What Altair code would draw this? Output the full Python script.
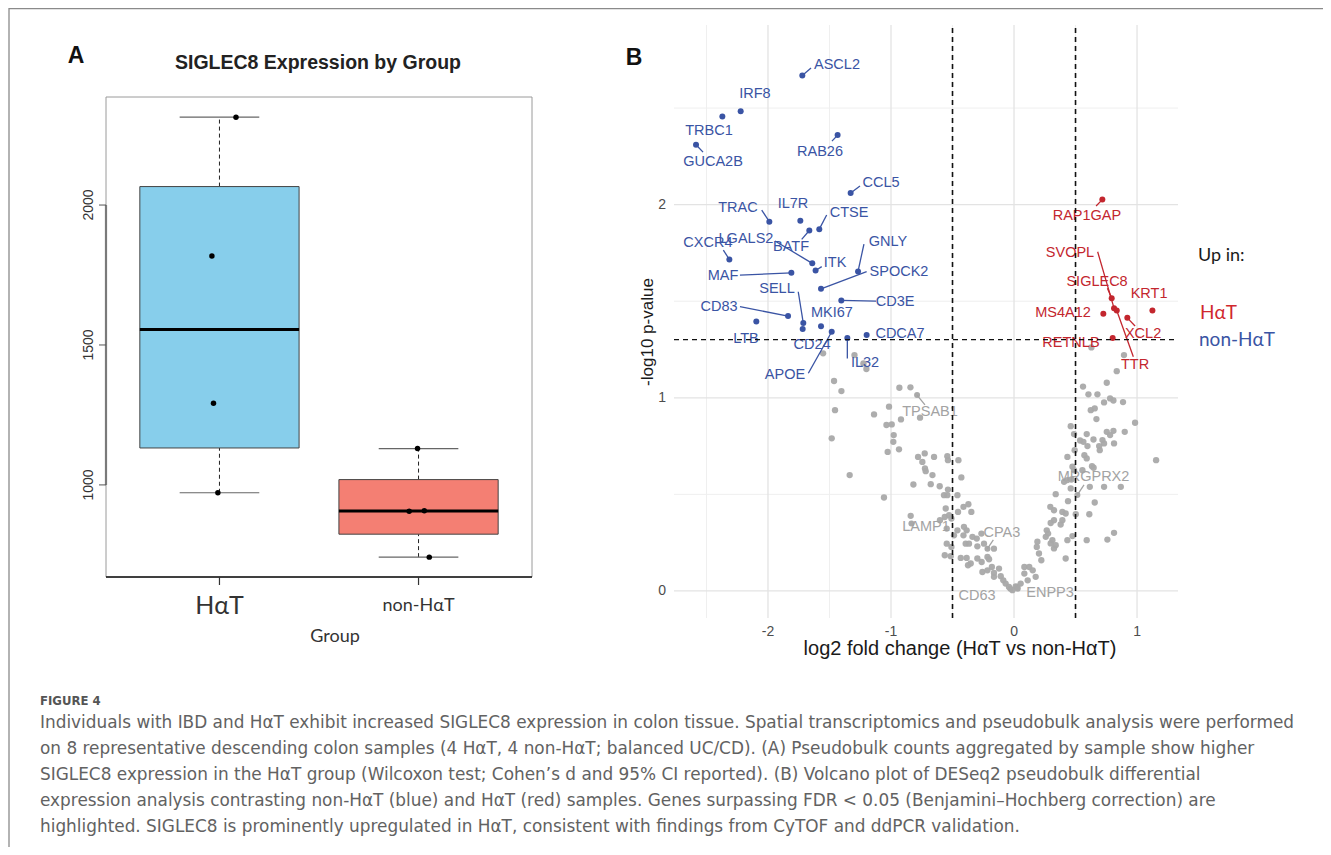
import math
import altair as alt
import pandas as pd

# ---------------- Panel A data (SIGLEC8 pseudobulk counts) ----------------
group_names = ["HαT", "non-HαT"]
group_pos = [1, 2]
group_fill = ["#87CEEB", "#F47F73"]
sample_group = ["HαT", "HαT", "HαT", "HαT", "non-HαT", "non-HαT", "non-HαT", "non-HαT"]
sample_expr = [2314, 1818, 1292, 972, 1130, 906, 908, 742]
sample_jitter = [0.083, -0.038, -0.030, -0.008, -0.005, -0.047, 0.029, 0.054]
a_yticks = [1000, 1500, 2000]

# ---------------- Panel B data (volcano) ----------------
down_genes = ["ASCL2", "IRF8", "TRBC1", "GUCA2B", "RAB26", "CCL5", "TRAC", "IL7R", "CTSE", "BATF",
              "LGALS2", "CXCR4", "ITK", "GNLY", "MAF", "SPOCK2", "SELL", "CD3E", "CD83", "MKI67",
              "LTB", "CD24", "APOE", "IL32", "CDCA7"]
down_lfc = [-1.721, -2.222, -2.371, -2.585, -1.434, -1.328, -1.989, -1.737, -1.583, -1.664,
            -1.640, -2.314, -1.613, -1.268, -1.810, -1.569, -1.713, -1.404, -1.837, -1.569,
            -2.095, -1.718, -1.482, -1.355, -1.198]
down_logp = [2.669, 2.484, 2.456, 2.310, 2.360, 2.060, 1.912, 1.916, 1.873, 1.866,
             1.696, 1.716, 1.659, 1.654, 1.647, 1.564, 1.387, 1.504, 1.423, 1.371,
             1.395, 1.356, 1.342, 1.309, 1.325]
down_lab_x = [-1.439, -2.106, -2.480, -2.447, -1.577, -1.081, -2.244, -1.797, -1.341, -1.813,
              -2.179, -2.488, -1.455, -1.024, -2.366, -0.935, -1.927, -0.967, -2.398, -1.480,
              -2.179, -1.642, -1.862, -1.211, -0.927]
down_lab_y = [2.723, 2.572, 2.381, 2.220, 2.272, 2.110, 1.982, 2.003, 1.957, 1.781,
              1.822, 1.801, 1.698, 1.808, 1.630, 1.651, 1.563, 1.496, 1.470, 1.439,
              1.304, 1.273, 1.118, 1.180, 1.330]
down_seg_x = [-1.650, None, None, -2.528, -1.480, -1.252, -2.051, None, -1.523, -1.726,
              -1.943, -2.363, -1.563, -1.220, -2.228, -1.198, -1.754, -1.122, -2.228, None,
              None, None, -1.672, -1.355, None]
down_seg_y = [2.707, None, None, 2.272, 2.329, 2.096, 1.972, None, 1.946, 1.820,
              1.812, 1.765, 1.679, 1.796, 1.635, 1.653, 1.549, 1.501, 1.472, None,
              None, None, 1.127, 1.204, None]

up_genes = ["RAP1GAP", "SVOPL", "SIGLEC8", "KRT1", "MS4A12", "XCL2", "RETNLB", "TTR"]
up_lfc = [0.718, 0.813, 0.794, 1.125, 0.726, 0.921, 0.802, 0.835]
up_logp = [2.026, 1.464, 1.516, 1.452, 1.435, 1.414, 1.309, 1.452]
up_lab_x = [0.593, 0.455, 0.675, 1.098, 0.398, 1.049, 0.463, 0.984]
up_lab_y = [1.941, 1.749, 1.599, 1.537, 1.439, 1.330, 1.284, 1.170]
up_seg_x = [0.667, 0.680, 0.759, None, None, 0.984, None, 0.970]
up_seg_y = [1.993, 1.756, 1.567, None, None, 1.372, None, 1.213]

ns_genes = ["TPSAB1", "LAMP1", "CPA3", "CD63", "ENPP3", "MRGPRX2"]
ns_lfc = [-0.788, -0.834, -0.216, -0.030, 0.030, 0.515]
ns_logp = [1.014, 0.349, 0.219, 0.012, 0.012, 0.497]
ns_lab_x = [-0.683, -0.715, -0.098, -0.301, 0.293, 0.646]
ns_lab_y = [0.927, 0.331, 0.300, -0.026, -0.010, 0.590]
ns_seg_x = [-0.724, None, -0.168, None, None, 0.569]
ns_seg_y = [0.963, None, 0.264, None, None, 0.549]

gray_lfc = [
    -1.552, -1.297, -1.224, -1.200, -1.463, -1.403, -1.455, -1.482, -1.336,
    -0.932, -0.842, -1.016, -1.138, -0.919, -0.764, -1.037, -0.994, -0.978, -0.981,
    -1.027, -0.935, -1.057, -0.780, -0.726, -0.745, -0.650, -0.724, -0.718, -0.663,
    -0.818, -0.677, -0.604, -0.542, -0.537, -0.452, -0.428, -0.537, -0.569, -0.542,
    -0.460, -0.840, -0.555, -0.602, -0.563, -0.528, -0.509, -0.455, -0.411, -0.371,
    -0.347, -0.547, -0.460, -0.407, -0.385, -0.488, -0.411, -0.338, -0.303, -0.265,
    -0.547, -0.509, -0.393, -0.366, -0.298, -0.244, -0.163, -0.563, -0.515, -0.433,
    -0.385, -0.352, -0.374, -0.298, -0.263, -0.216, -0.203, -0.257, -0.216, -0.180,
    -0.163, -0.122, -0.163, -0.108, -0.087, -0.068, -0.041, -0.013, 0.014,
    0.629, 0.894, 0.835, 0.754, 0.561, 0.605, 0.678, 0.781, 0.808, 0.732, 0.886,
    0.984, 0.624, 0.656, 0.670, 0.461, 0.488, 0.591, 0.754, 0.808, 0.781, 0.900,
    0.646, 0.719, 0.732, 0.692, 0.697, 0.537, 0.564, 0.813, 0.493, 0.597,
    0.434, 0.572, 0.591, 0.634, 0.647, 1.155, 0.475, 0.488, 0.556,
    0.407, 0.434, 0.467, 0.461, 0.616, 0.732, 0.868, 0.339, 0.656, 0.439,
    0.295, 0.325, 0.393, 0.420, 0.393, 0.325, 0.298, 0.379, 0.502, 0.612,
    0.266, 0.277, 0.258, 0.312, 0.298, 0.325, 0.339, 0.434, 0.475, 0.591, 0.759, 0.813,
    0.190, 0.185, 0.203, 0.222, 0.420, 0.084, 0.124, 0.152, 0.084, 0.111, 0.176,
    0.027, 0.054,
]
gray_logp = [
    1.230, 1.221, 1.178, 1.149, 1.087, 1.035, 0.936, 0.790, 0.600,
    1.052, 1.054, 0.954, 0.914, 0.888, 0.897, 0.859, 0.862, 0.807, 0.772,
    0.720, 0.733, 0.484, 0.694, 0.712, 0.668, 0.694, 0.634, 0.620, 0.600,
    0.551, 0.553, 0.542, 0.698, 0.677, 0.677, 0.588, 0.525, 0.496, 0.496,
    0.496, 0.389, 0.427, 0.366, 0.383, 0.392, 0.375, 0.409, 0.435, 0.449,
    0.409, 0.323, 0.314, 0.332, 0.314, 0.288, 0.288, 0.280, 0.271, 0.297,
    0.245, 0.228, 0.245, 0.245, 0.231, 0.245, 0.219, 0.185, 0.180, 0.171,
    0.171, 0.142, 0.133, 0.168, 0.150, 0.176, 0.164, 0.098, 0.107, 0.124,
    0.093, 0.116, 0.073, 0.076, 0.055, 0.038, 0.021, 0.004, 0.024,
    1.261, 1.221, 1.138, 1.078, 1.058, 1.018, 1.018, 0.997, 0.986, 0.976, 0.978,
    0.871, 0.936, 0.945, 0.890, 0.853, 0.812, 0.812, 0.824, 0.829, 0.807, 0.824,
    0.784, 0.781, 0.764, 0.750, 0.729, 0.779, 0.772, 0.764, 0.729, 0.750,
    0.694, 0.703, 0.686, 0.646, 0.638, 0.677, 0.643, 0.625, 0.625,
    0.565, 0.574, 0.577, 0.531, 0.539, 0.539, 0.539, 0.501, 0.458, 0.465,
    0.435, 0.418, 0.409, 0.401, 0.366, 0.366, 0.352, 0.344, 0.397, 0.397,
    0.314, 0.297, 0.280, 0.263, 0.246, 0.220, 0.237, 0.263, 0.284, 0.263, 0.266, 0.301,
    0.255, 0.228, 0.194, 0.159, 0.168, 0.124, 0.124, 0.107, 0.090, 0.055, 0.073,
    0.021, 0.038,
]

b_xticks = [-2, -1, 0, 1]
b_xminor = [-2.5, -1.5, -0.5, 0.5]
b_yticks = [0, 1, 2]
b_yminor = [0.5, 1.5, 2.5]
fc_cut = 0.5
p_cut = -math.log10(0.05)

caption_head = "FIGURE 4"
caption_lines = [
    "Individuals with IBD and HαT exhibit increased SIGLEC8 expression in colon tissue. Spatial transcriptomics and pseudobulk analysis were performed",
    "on 8 representative descending colon samples (4 HαT, 4 non-HαT; balanced UC/CD). (A) Pseudobulk counts aggregated by sample show higher",
    "SIGLEC8 expression in the HαT group (Wilcoxon test; Cohen’s d and 95% CI reported). (B) Volcano plot of DESeq2 pseudobulk differential",
    "expression analysis contrasting non-HαT (blue) and HαT (red) samples. Genes surpassing FDR < 0.05 (Benjamini–Hochberg correction) are",
    "highlighted. SIGLEC8 is prominently upregulated in HαT, consistent with findings from CyTOF and ddPCR validation.",
]

# ---------------- layout (page pixels) ----------------
M = 8  # page margin
W, H = 1331 - 2 * M, 855 - 2 * M
BLUE, RED, GREY = "#3A54A4", "#C3262E", "#A9A9A9"
SANS = "Liberation Sans"
ROUND = "Lato"

A_L, A_R, A_T, A_B = 106, 532, 97, 577
B_L, B_R, B_T, B_B = 674, 1178, 25, 618

AX = alt.Scale(domain=[0.43, 2.57], range=[A_L - M, A_R - M], nice=False, zero=False)
AY = alt.Scale(domain=[671, 2386], range=[A_B - M, A_T - M], nice=False, zero=False)
BX = alt.Scale(domain=[-2.764, 1.333], range=[B_L - M, B_R - M], nice=False, zero=False)
BY = alt.Scale(domain=[-0.14, 2.93], range=[B_B - M, B_T - M], nice=False, zero=False)


def qx(field, scale):
    return alt.X(field, type="quantitative", scale=scale, axis=None)


def qy(field, scale):
    return alt.Y(field, type="quantitative", scale=scale, axis=None)


def page_text(text, px, py, size, color, weight="normal", align="left",
              font=SANS, angle=0, baseline="middle"):
    return alt.Chart(pd.DataFrame({"t": [text]})).mark_text(
        align=align, baseline=baseline, fontSize=size, color=color,
        fontWeight=weight, font=font, angle=angle
    ).encode(x=alt.value(px - M), y=alt.value(py - M), text="t:N")


def fivenum(vals):
    s = sorted(vals)
    n = len(s)
    n4 = ((n + 3) // 2) / 2
    out = []
    for d in [1, n4, (n + 1) / 2, n + 1 - n4, n]:
        out.append(0.5 * (s[int(math.floor(d)) - 1] + s[int(math.ceil(d)) - 1]))
    return out


layers = []

# ---------- outer figure border ----------
layers.append(alt.Chart(pd.DataFrame({"a": [0]})).mark_rule(color="#8a8a8a", strokeWidth=1.3).encode(
    x=alt.value(1), x2=alt.value(W + M), y=alt.value(0.5)))
layers.append(alt.Chart(pd.DataFrame({"a": [0]})).mark_rule(color="#8a8a8a", strokeWidth=1.3).encode(
    x=alt.value(1), y=alt.value(0), y2=alt.value(H + M)))

# ---------------- Panel A ----------------
samples = pd.DataFrame({"grp": sample_group, "expr": sample_expr, "jit": sample_jitter})
samples["pos"] = [group_pos[group_names.index(g)] for g in samples["grp"]] + samples["jit"]

rows = []
for g, p, f in zip(group_names, group_pos, group_fill):
    mn, q1, med, q3, mx = fivenum(samples.loc[samples.grp == g, "expr"].tolist())
    rows.append(dict(grp=g, pos=p, lo=p - 0.4, hi=p + 0.4, clo=p - 0.2, chi=p + 0.2,
                     mn=mn, q1=q1, med=med, q3=q3, mx=mx, fill=f))
boxes = pd.DataFrame(rows)

frame = pd.DataFrame({"x0": [AX.domain[0]], "x1": [AX.domain[1]], "y0": [AY.domain[0]], "y1": [AY.domain[1]]})
layers.append(alt.Chart(frame).mark_rect(fillOpacity=0, stroke="#9a9a9a", strokeWidth=1).encode(
    x=qx("x0", AX), x2="x1", y=qy("y0", AY), y2="y1"))
layers.append(alt.Chart(frame).mark_rule(color="#111111", strokeWidth=1.6).encode(
    x=qx("x0", AX), x2="x1", y=qy("y0", AY)))

# whisker stems (dashed) and caps
layers.append(alt.Chart(boxes).mark_rule(color="#222222", strokeWidth=1, strokeDash=[4, 3]).encode(
    x=qx("pos", AX), y=qy("q3", AY), y2="mx"))
layers.append(alt.Chart(boxes).mark_rule(color="#222222", strokeWidth=1, strokeDash=[4, 3]).encode(
    x=qx("pos", AX), y=qy("mn", AY), y2="q1"))
layers.append(alt.Chart(boxes).mark_rule(color="#666666", strokeWidth=1.2).encode(
    x=qx("clo", AX), x2="chi", y=qy("mx", AY)))
layers.append(alt.Chart(boxes).mark_rule(color="#666666", strokeWidth=1.2).encode(
    x=qx("clo", AX), x2="chi", y=qy("mn", AY)))
# boxes
layers.append(alt.Chart(boxes).mark_rect(stroke="#444444", strokeWidth=1).encode(
    x=qx("lo", AX), x2="hi", y=qy("q1", AY), y2="q3",
    color=alt.Color("fill:N", scale=None, legend=None)))
layers.append(alt.Chart(boxes).mark_rule(color="#000000", strokeWidth=3).encode(
    x=qx("lo", AX), x2="hi", y=qy("med", AY)))
# sample points
layers.append(alt.Chart(samples).mark_circle(color="#000000", opacity=1, size=30).encode(
    x=qx("pos", AX), y=qy("expr", AY)))

# y axis
ayt = pd.DataFrame({"v": a_yticks, "lab": [str(v) for v in a_yticks],
                    "lo": [min(a_yticks)] * 3, "hi": [max(a_yticks)] * 3})
layers.append(alt.Chart(ayt.head(1)).mark_rule(color="#7a7a7a", strokeWidth=2.2).encode(
    x=alt.value(A_L - M), y=qy("lo", AY), y2="hi"))
layers.append(alt.Chart(ayt).mark_rule(color="#555555", strokeWidth=1).encode(
    x=alt.value(A_L - M - 7), x2=alt.value(A_L - M), y=qy("v", AY)))
layers.append(alt.Chart(ayt).mark_text(angle=270, fontSize=14, color="#333333", font=SANS,
                                       align="center", baseline="middle").encode(
    x=alt.value(89 - M), y=qy("v", AY), text="lab:N"))
# x axis
axt = pd.DataFrame({"pos": group_pos, "lab": group_names, "fs": [25, 18]})
layers.append(alt.Chart(axt).mark_rule(color="#333333", strokeWidth=1.2).encode(
    x=qx("pos", AX), y=alt.value(A_B - M), y2=alt.value(A_B - M + 8)))
layers.append(alt.Chart(axt).mark_text(color="#333333", font=ROUND, baseline="middle").encode(
    x=qx("pos", AX), y=alt.value(606 - M), text="lab:N",
    size=alt.Size("fs:Q", scale=None, legend=None)))
layers.append(page_text("Group", 335, 637, 18, "#333333", font=ROUND, align="center"))
layers.append(page_text("SIGLEC8 Expression by Group", 318, 63, 19.5, "#222222", weight="bold", align="center"))
layers.append(page_text("A", 76, 56, 23, "#111111", weight="bold", align="center"))

# ---------------- Panel B ----------------
gx = pd.DataFrame({"v": b_xticks, "lo": BY.domain[0], "hi": BY.domain[1]})
gxm = pd.DataFrame({"v": b_xminor, "lo": BY.domain[0], "hi": BY.domain[1]})
gy = pd.DataFrame({"v": b_yticks, "lo": BX.domain[0], "hi": BX.domain[1]})
gym = pd.DataFrame({"v": b_yminor, "lo": BX.domain[0], "hi": BX.domain[1]})
layers.append(alt.Chart(gxm).mark_rule(color="#EFEFEF", strokeWidth=1).encode(
    x=qx("v", BX), y=qy("lo", BY), y2="hi"))
layers.append(alt.Chart(gym).mark_rule(color="#EFEFEF", strokeWidth=1).encode(
    y=qy("v", BY), x=qx("lo", BX), x2="hi"))
layers.append(alt.Chart(gx).mark_rule(color="#E3E3E3", strokeWidth=1.3).encode(
    x=qx("v", BX), y=qy("lo", BY), y2="hi"))
layers.append(alt.Chart(gy).mark_rule(color="#E3E3E3", strokeWidth=1.3).encode(
    y=qy("v", BY), x=qx("lo", BX), x2="hi"))

gray_df = pd.DataFrame({"lfc": gray_lfc, "lp": gray_logp})
layers.append(alt.Chart(gray_df).mark_circle(color=GREY, opacity=0.95, size=40).encode(
    x=qx("lfc", BX), y=qy("lp", BY)))

for genes, lfc, lp, lx, ly, sx, sy, col, pcol in [
    (ns_genes, ns_lfc, ns_logp, ns_lab_x, ns_lab_y, ns_seg_x, ns_seg_y, "#A3A3A3", GREY),
    (down_genes, down_lfc, down_logp, down_lab_x, down_lab_y, down_seg_x, down_seg_y, BLUE, BLUE),
    (up_genes, up_lfc, up_logp, up_lab_x, up_lab_y, up_seg_x, up_seg_y, RED, RED),
]:
    df = pd.DataFrame({"gene": genes, "lfc": lfc, "lp": lp, "lx": lx, "ly": ly, "sx": sx, "sy": sy})
    seg = df.dropna(subset=["sx"])
    layers.append(alt.Chart(df).mark_circle(color=pcol, opacity=1, size=36).encode(
        x=qx("lfc", BX), y=qy("lp", BY)))
    layers.append(alt.Chart(seg).mark_rule(color=col, strokeWidth=1.3).encode(
        x=qx("lfc", BX), y=qy("lp", BY), x2="sx", y2="sy"))
    layers.append(alt.Chart(df).mark_text(color=col, fontSize=14.5, font=SANS,
                                          align="center", baseline="middle").encode(
        x=qx("lx", BX), y=qy("ly", BY), text="gene:N"))

# threshold lines
vl = pd.DataFrame({"v": [-fc_cut, fc_cut], "lo": BY.domain[0], "hi": BY.domain[1]})
hl = pd.DataFrame({"v": [p_cut], "lo": BX.domain[0], "hi": BX.domain[1]})
layers.append(alt.Chart(vl).mark_rule(color="#111111", strokeWidth=1.6, strokeDash=[5, 4]).encode(
    x=qx("v", BX), y=qy("lo", BY), y2="hi"))
layers.append(alt.Chart(hl).mark_rule(color="#111111", strokeWidth=1.3, strokeDash=[5, 4]).encode(
    y=qy("v", BY), x=qx("lo", BX), x2="hi"))

# axes labels
bxt = pd.DataFrame({"v": b_xticks, "lab": [str(v) for v in b_xticks]})
byt = pd.DataFrame({"v": b_yticks, "lab": [str(v) for v in b_yticks]})
layers.append(alt.Chart(bxt).mark_text(fontSize=14, color="#4D4D4D", font=SANS, baseline="middle").encode(
    x=qx("v", BX), y=alt.value(632 - M), text="lab:N"))
layers.append(alt.Chart(byt).mark_text(fontSize=14, color="#4D4D4D", font=SANS, align="right",
                                       baseline="middle").encode(
    y=qy("v", BY), x=alt.value(666 - M), text="lab:N"))
layers.append(page_text("log2  fold  change  (HαT  vs  non-HαT)", 960, 649, 20, "#1a1a1a", align="center"))
layers.append(page_text("-log10  p-value", 648, 332, 17, "#1a1a1a", align="center", angle=270))
layers.append(page_text("B", 634, 58, 23, "#111111", weight="bold", align="center"))

# legend-like text
layers.append(page_text("Up  in:", 1198, 256, 18, "#1a1a1a", font=ROUND))
layers.append(page_text("HαT", 1200, 313, 19, "#D0282E", font=ROUND))
layers.append(page_text("non-HαT", 1199, 340, 19, BLUE, font=ROUND))

# ---------------- caption ----------------
layers.append(page_text(caption_head, 40, 701, 13, "#555555", weight="bold", font="DejaVu Sans Condensed"))
for i, line in enumerate(caption_lines):
    layers.append(page_text(line, 40, 723 + 26 * i, 16.9, "#626262", font="DejaVu Sans"))

chart = alt.layer(*layers).resolve_scale(x="independent", y="independent").properties(
    width=W, height=H, autosize=alt.AutoSizeParams(type="none"), padding=0
).configure_view(stroke=None)

chart.save("out.html", embed_options={"renderer": "svg", "actions": False})
